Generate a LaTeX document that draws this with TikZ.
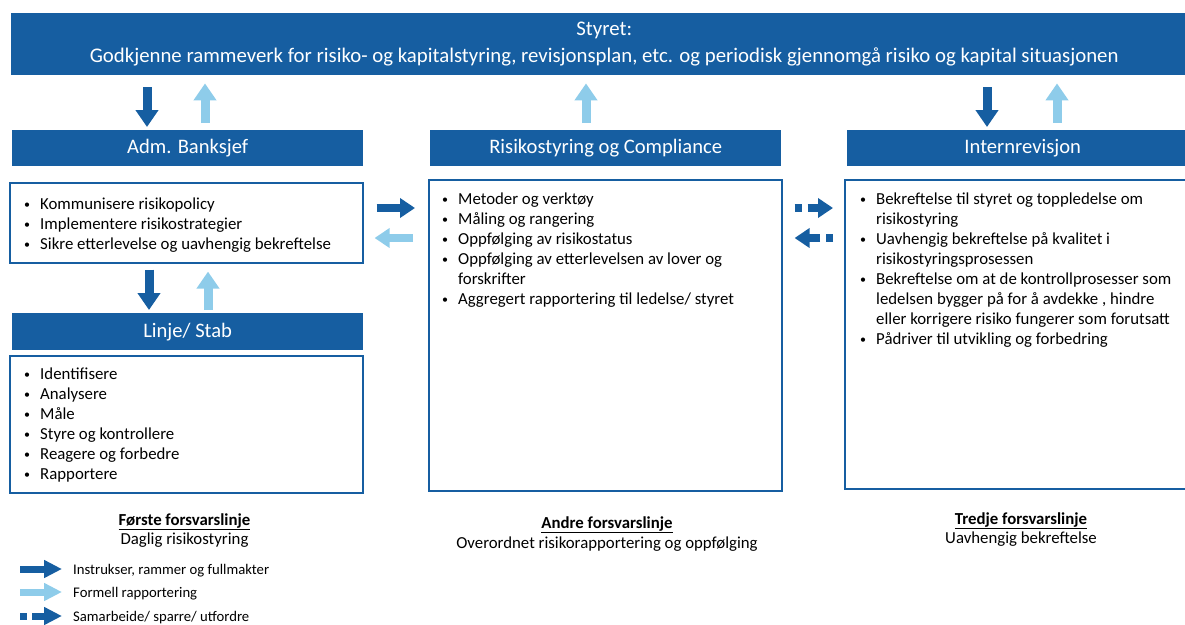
\documentclass[tikz,border=0pt]{standalone}
\usepackage{fontspec}
\setmainfont{Carlito}
\usetikzlibrary{arrows.meta}
\definecolor{dblue}{RGB}{22,94,161}
\definecolor{lblue}{RGB}{142,204,234}
\newcommand{\bi}{\makebox[16pt][l]{\raisebox{0.5pt}{\fontsize{12}{12}\selectfont\textbullet}}}
\newcommand{\ci}{\hspace*{16pt}}
\begin{document}
\begin{tikzpicture}[x=1pt,y=-1pt,
  bar/.style={fill=dblue, text=white, inner sep=0pt, anchor=north west, align=center},
  box/.style={draw=dblue, line width=1.6pt, inner sep=0pt, anchor=north west},
  list/.style={anchor=north west, inner sep=0pt, align=left, font=\fontsize{16.8}{20}\selectfont},
  varr/.style={line width=9pt, -{Triangle[length=17pt,width=22pt]}},
  harr/.style={line width=8pt, -{Triangle[length=15pt,width=19pt]}},
  dharr/.style={harr, dash pattern=on 7pt off 6pt on 40pt off 0pt},
  larr/.style={line width=7pt, -{Triangle[length=18pt,width=17pt]}},
  dlarr/.style={larr, dash pattern=on 7pt off 5pt on 40pt off 0pt},
  lbl/.style={anchor=base, inner sep=0pt},
  leg/.style={anchor=base west, inner sep=0pt, font=\fontsize{14.7}{15}\selectfont}]
\useasboundingbox (0,0) rectangle (1185,624);

% bars
\node[bar, minimum width=1186pt, minimum height=62pt, font=\fontsize{20.8}{27}\selectfont] (top) at (11,13)
  {Styret:\\Godkjenne rammeverk for risiko- og kapitalstyring, revisjonsplan, etc. og periodisk gjennomgå risiko og kapital situasjonen};
\node[bar, minimum width=351pt, minimum height=36pt, font=\fontsize{20.6}{22}\selectfont] (adm) at (12,130) {Adm. Banksjef};
\node[bar, minimum width=351pt, minimum height=36pt, font=\fontsize{20.6}{22}\selectfont] (risk) at (430,130) {Risikostyring og Compliance};
\node[bar, minimum width=351pt, minimum height=36pt, font=\fontsize{20.6}{22}\selectfont] (intern) at (847,130) {Internrevisjon};
\node[bar, minimum width=351pt, minimum height=37pt, font=\fontsize{20.6}{22}\selectfont] (linje) at (12,313) {Linje/ Stab};

% boxes
\node[box, minimum width=353pt, minimum height=80pt] (admbox) at (9,182) {};
\node[box, minimum width=353pt, minimum height=311pt] (riskbox) at (428,179) {};
\node[box, minimum width=365pt, minimum height=309pt] (internbox) at (844,179) {};
\node[box, minimum width=353pt, minimum height=137pt] (linjebox) at (9,355) {};

% lists
\node[list] (admlist) at (24,197.5) {\bi Kommunisere risikopolicy\\
  \bi Implementere risikostrategier\\
  \bi Sikre etterlevelse og uavhengig bekreftelse};
\node[list] (risklist) at (442,192.5) {\bi Metoder og verktøy\\
  \bi Måling og rangering\\
  \bi Oppfølging av risikostatus\\
  \bi Oppfølging av etterlevelsen av lover og\\
  \ci forskrifter\\
  \bi Aggregert rapportering til ledelse/ styret};
\node[list] (internlist) at (860,192.5) {\bi Bekreftelse til styret og toppledelse om\\
  \ci risikostyring\\
  \bi Uavhengig bekreftelse på kvalitet i\\
  \ci risikostyringsprosessen\\
  \bi Bekreftelse om at de kontrollprosesser som\\
  \ci ledelsen bygger på for å avdekke , hindre\\
  \ci eller korrigere risiko fungerer som forutsatt\\
  \bi Pådriver til utvikling og forbedring};
\node[list] (linjelist) at (24,367.5) {\bi Identifisere\\
  \bi Analysere\\
  \bi Måle\\
  \bi Styre og kontrollere\\
  \bi Reagere og forbedre\\
  \bi Rapportere};

% arrow columns
\coordinate (c1) at (147,0);
\coordinate (c2) at (205,0);
\coordinate (c3) at (586,0);
\coordinate (c4) at (987,0);
\coordinate (c5) at (1057,0);
\coordinate (c6) at (149,0);
\coordinate (c7) at (208,0);
\coordinate (r1) at (0,208);
\coordinate (r2) at (0,238);

\draw[varr, dblue, shorten <=12pt, shorten >=3pt] (top.south -| c1) -- (adm.north -| c1);
\draw[varr, lblue, shorten <=7pt, shorten >=8pt] (adm.north -| c2) -- (top.south -| c2);
\draw[varr, lblue, shorten <=7pt, shorten >=8pt] (risk.north -| c3) -- (top.south -| c3);
\draw[varr, dblue, shorten <=12pt, shorten >=3pt] (top.south -| c4) -- (intern.north -| c4);
\draw[varr, lblue, shorten <=7pt, shorten >=8pt] (intern.north -| c5) -- (top.south -| c5);

\draw[varr, dblue, shorten <=6pt, shorten >=3pt] (admbox.south -| c6) -- (linje.north -| c6);
\draw[varr, lblue, shorten <=3pt, shorten >=8pt] (linje.north -| c7) -- (admbox.south -| c7);

\draw[harr, dblue, shorten <=13pt, shorten >=13pt] (admbox.east |- r1) -- (riskbox.west |- r1);
\draw[harr, lblue, shorten <=15pt, shorten >=11pt] (riskbox.west |- r2) -- (admbox.east |- r2);

\draw[dharr, dblue, shorten <=12pt, shorten >=11pt] (riskbox.east |- r1) -- (internbox.west |- r1);
\draw[dharr, dblue, shorten <=11pt, shorten >=12pt] (internbox.west |- r2) -- (riskbox.east |- r2);

% line labels
\node[lbl, font=\fontsize{16.8}{18}\selectfont\bfseries] (l1) at (184.5,525) {\underline{Første forsvarslinje}};
\node[lbl, font=\fontsize{16.8}{18}\selectfont] (l1b) at (184.5,544) {Daglig risikostyring};
\node[lbl, font=\fontsize{16.8}{18}\selectfont\bfseries] (l2) at (607,528) {\underline{Andre forsvarslinje}};
\node[lbl, font=\fontsize{16.8}{18}\selectfont] (l2b) at (607,548.5) {Overordnet risikorapportering og oppfølging};
\node[lbl, font=\fontsize{16.8}{18}\selectfont\bfseries] (l3) at (1021,524) {\underline{Tredje forsvarslinje}};
\node[lbl, font=\fontsize{16.8}{18}\selectfont] (l3b) at (1021,543.5) {Uavhengig bekreftelse};

% legend
\coordinate (g1a) at (20,569); \coordinate (g1b) at (62,569);
\coordinate (g2a) at (20,592); \coordinate (g2b) at (62,592);
\coordinate (g3a) at (20,616); \coordinate (g3b) at (62,616);
\draw[larr, dblue] (g1a) -- (g1b);
\draw[larr, lblue] (g2a) -- (g2b);
\draw[dlarr, dblue] (g3a) -- (g3b);
\node[leg] (t1) at (73,574) {Instrukser, rammer og fullmakter};
\node[leg] (t2) at (73,597) {Formell rapportering};
\node[leg] (t3) at (73,621) {Samarbeide/ sparre/ utfordre};
\end{tikzpicture}
\end{document}
